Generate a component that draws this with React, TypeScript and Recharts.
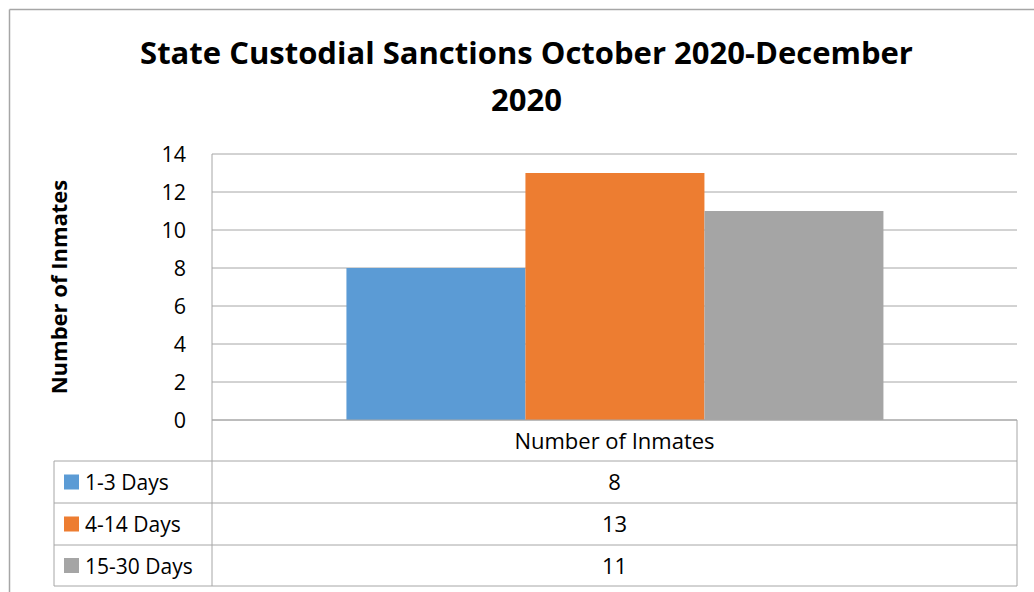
import { Bar, BarChart, CartesianGrid, XAxis, YAxis } from "recharts";

const categories = ["Number of Inmates"];
const seriesNames = ["1-3 Days", "4-14 Days", "15-30 Days"];
const seriesValues = [8, 13, 11];
const seriesColors = ["#5B9BD5", "#ED7D31", "#A5A5A5"];
const yTicks = [0, 2, 4, 6, 8, 10, 12, 14];
const titleLines = ["State Custodial Sanctions October 2020-December", "2020"];
const yAxisTitle = "Number of Inmates";

const data = categories.map((name) => {
  const row: Record<string, string | number> = { name };
  seriesNames.forEach((s, i) => {
    row[s] = seriesValues[i];
  });
  return row;
});

const FONT = "'Open Sans', Lato, sans-serif";
const LINE = "#a6a6a6";

// plot area, in page pixels
const W = 1034;
const H = 592;
const PLOT_LEFT = 212;
const PLOT_RIGHT = 1017;
const PLOT_TOP = 154;
const PLOT_BOTTOM = 420;
const Y_AXIS_W = 60;
const X_AXIS_H = 42;
const rowLines = [461, 503, 545, 586];
const TABLE_LEFT = 54;

const App = () => {
  return (
    <div style={{ position: "absolute", left: 0, top: 0, width: W, height: H, background: "#fff" }}>
      <BarChart
        width={W}
        height={H}
        data={data}
        barCategoryGap="16.7%"
        barGap={0}
        margin={{
          top: PLOT_TOP,
          right: W - PLOT_RIGHT,
          left: PLOT_LEFT - Y_AXIS_W,
          bottom: H - PLOT_BOTTOM - X_AXIS_H,
        }}
      >
        <CartesianGrid vertical={false} stroke={LINE} strokeWidth={1} />
        <XAxis
          dataKey="name"
          height={X_AXIS_H}
          stroke={LINE}
          tickLine={false}
          tickSize={0}
          tickMargin={13}
          tick={{ fill: "#000", fontSize: 22, fontFamily: FONT }}
        />
        <YAxis
          width={Y_AXIS_W}
          domain={[0, 14]}
          ticks={yTicks}
          interval={0}
          stroke={LINE}
          tickLine={false}
          tickSize={0}
          tickMargin={26}
          tick={{ fill: "#000", fontSize: 21.5, fontFamily: FONT }}
        />
        {seriesNames.map((s, i) => (
          <Bar key={s} dataKey={s} fill={seriesColors[i]} isAnimationActive={false} />
        ))}
      </BarChart>

      <svg
        width={W}
        height={H}
        style={{ position: "absolute", left: 0, top: 0, pointerEvents: "none" }}
      >
        {/* chart frame */}
        <line x1={9.5} y1={9.5} x2={W} y2={9.5} stroke={LINE} strokeWidth={1.5} />
        <line x1={9.5} y1={9.5} x2={9.5} y2={H} stroke={LINE} strokeWidth={1.5} />

        {/* title */}
        {titleLines.map((t, i) => (
          <text
            key={t}
            x={526.5}
            y={64 + i * 47}
            textAnchor="middle"
            fontFamily={FONT}
            fontWeight="bold"
            fontSize={31}
            fill="#000"
          >
            {t}
          </text>
        ))}

        {/* y axis title */}
        <text
          transform="translate(67,287) rotate(-90)"
          textAnchor="middle"
          fontFamily={FONT}
          fontWeight="bold"
          fontSize={22}
          fill="#000"
        >
          {yAxisTitle}
        </text>

        {/* data table */}
        <line x1={PLOT_LEFT} y1={PLOT_BOTTOM} x2={PLOT_LEFT} y2={rowLines[3]} stroke={LINE} />
        <line x1={PLOT_RIGHT} y1={PLOT_BOTTOM} x2={PLOT_RIGHT} y2={rowLines[3]} stroke={LINE} />
        <line x1={TABLE_LEFT} y1={rowLines[0]} x2={TABLE_LEFT} y2={rowLines[3]} stroke={LINE} />
        {rowLines.map((y) => (
          <line key={y} x1={TABLE_LEFT} y1={y} x2={PLOT_RIGHT} y2={y} stroke={LINE} />
        ))}
        {seriesNames.map((s, i) => {
          const top = rowLines[i];
          const mid = (rowLines[i] + rowLines[i + 1]) / 2;
          return (
            <g key={s}>
              <rect x={64} y={mid - 7.5} width={15} height={15} fill={seriesColors[i]} />
              <text x={85} y={top + 29} fontFamily={FONT} fontSize={21} fill="#000">
                {s}
              </text>
              <text
                x={(PLOT_LEFT + PLOT_RIGHT) / 2}
                y={top + 29}
                textAnchor="middle"
                fontFamily={FONT}
                fontSize={22}
                fill="#000"
              >
                {seriesValues[i]}
              </text>
            </g>
          );
        })}
      </svg>
    </div>
  );
};

export default App;
